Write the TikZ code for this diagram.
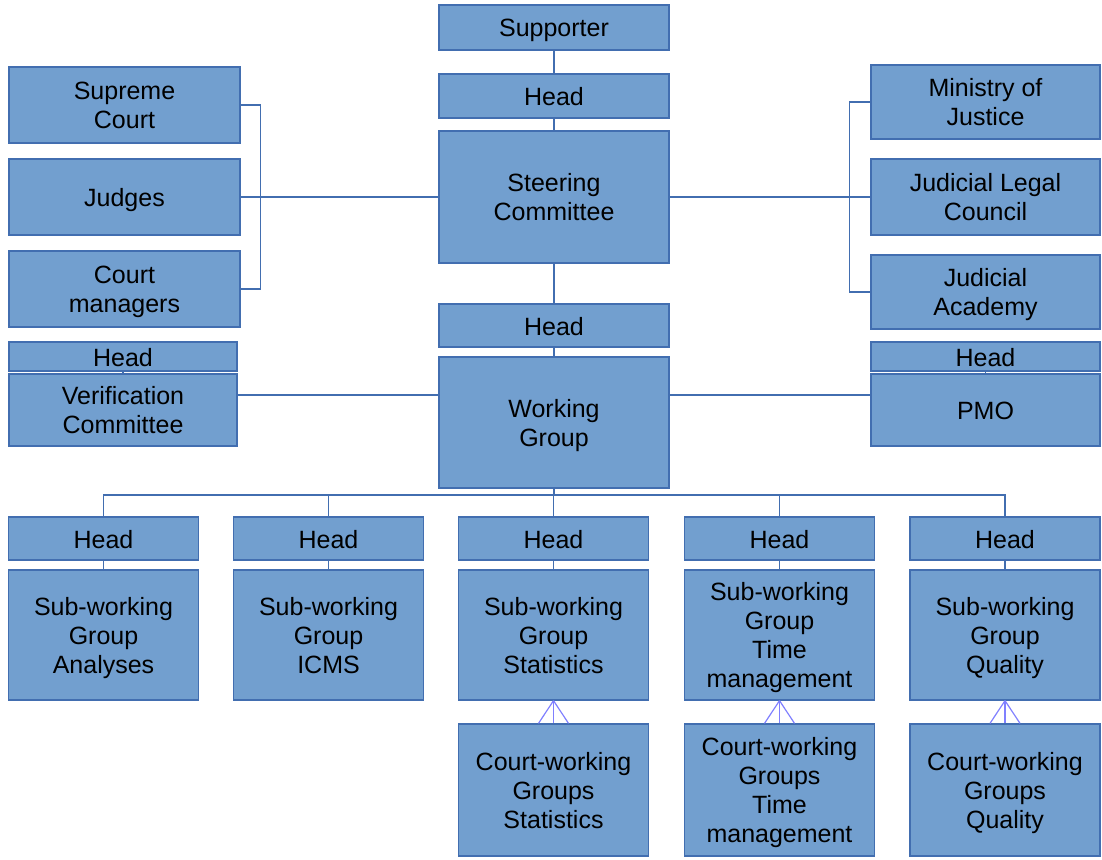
\documentclass[tikz,border=0pt]{standalone}
\usepackage{fontspec}
\setmainfont{Liberation Sans}
\definecolor{boxfill}{RGB}{114,159,207}
\definecolor{boxline}{RGB}{66,110,176}
\definecolor{footline}{RGB}{128,128,255}
\newcommand{\linestrut}{\rule[-5pt]{0pt}{29pt}}
\tikzset{
  box/.style={draw=boxline, line width=1.3pt, fill=boxfill, inner sep=0pt,
    align=center, text=black, font=\fontsize{25}{29}\selectfont,
    execute at begin node=\linestrut, text depth=5pt},
  multi/.style={text depth=-1pt},
  link/.style={draw=boxline, line width=1.2pt},
  foot/.style={draw=footline, line width=1.2pt}
}
\begin{document}
\begin{tikzpicture}[x=1pt, y=-1pt]
\useasboundingbox (0,0) rectangle (1102,859);

% central column
\node[box, minimum width=230pt, minimum height=45pt]  (sup) at (554,27.5) {Supporter};
\node[box, minimum width=230pt, minimum height=44pt]  (h1)  at (554,96)   {Head};
\node[box, multi, minimum width=230pt, minimum height=132pt] (sc)  at (554,197)  {Steering\\Committee};
\node[box, minimum width=230pt, minimum height=43pt]  (h2)  at (554,325.5){Head};
\node[box, multi, minimum width=230pt, minimum height=131pt] (wg)  at (554,422.5){Working\\Group};

% left group
\node[box, multi, minimum width=231pt, minimum height=76pt] (supc) at (124.5,105) {Supreme\\Court};
\node[box, minimum width=231pt, minimum height=76pt] (jud)  at (124.5,197) {Judges};
\node[box, multi, minimum width=231pt, minimum height=76pt] (cm)   at (124.5,289) {Court\\managers};
\node[box, minimum width=228pt, minimum height=25pt] (hl)   at (123,356.5) {Head};
\node[box, multi, minimum width=228pt, minimum height=72pt] (vc)   at (123,410)   {Verification\\Committee};

% right group
\node[box, multi, minimum width=229pt, minimum height=74pt] (moj) at (985.5,102)   {Ministry of\\Justice};
\node[box, multi, minimum width=229pt, minimum height=76pt] (jlc) at (985.5,197)   {Judicial Legal\\Council};
\node[box, multi, minimum width=229pt, minimum height=74pt] (ja)  at (985.5,292)   {Judicial\\Academy};
\node[box, minimum width=229pt, minimum height=25pt] (hr)  at (985.5,356.5) {Head};
\node[box, minimum width=229pt, minimum height=72pt] (pmo) at (985.5,410)   {PMO};

% bottom row: heads
\foreach \n/\x in {A/103.5, B/328.5, C/553.5, D/779.5, E/1005}
  \node[box, minimum width=190pt, minimum height=43pt] (h\n) at (\x,538.5) {Head};

% bottom row: sub-working groups
\tikzset{sub/.style={box, multi, minimum width=190pt, minimum height=130pt}}
\node[sub] (sA) at (103.5,635) {Sub-working\\Group\\Analyses};
\node[sub] (sB) at (328.5,635) {Sub-working\\Group\\ICMS};
\node[sub] (sC) at (553.5,635) {Sub-working\\Group\\Statistics};
\node[sub] (sD) at (779.5,635) {Sub-working\\Group\\Time\\management};
\node[sub] (sE) at (1005,635)  {Sub-working\\Group\\Quality};

% court-working groups
\tikzset{court/.style={box, multi, minimum width=190pt, minimum height=132pt}}
\node[court] (cC) at (553.5,790) {Court-working\\Groups\\Statistics};
\node[court] (cD) at (779.5,790) {Court-working\\Groups\\Time\\management};
\node[court] (cE) at (1005,790)  {Court-working\\Groups\\Quality};

% central spine
\draw[link] (sup.south) -- (h1.north);
\draw[link] (h1.south) -- (h1.south |- sc.north);
\draw[link] (sc.south) -- (sc.south |- h2.north);
\draw[link] (h2.south) -- (h2.south |- wg.north);

% left bracket and link
\draw[link] (supc.east) -- ++(20,0) |- (cm.east);
\draw[link] (jud.east) -- (sc.west);

% right bracket and link
\draw[link] (moj.west) -- ++(-21,0) |- (ja.west);
\draw[link] (sc.east) -- (jlc.west);

% heads of the side committees
\draw[link] (hl.south) -- (vc.north -| hl.south);
\draw[link] (hr.south) -- (pmo.north -| hr.south);
\draw[link] ([yshift=15pt]vc.east) coordinate (vcl) -- (vcl -| wg.west);
\draw[link] ([yshift=15pt]pmo.west) coordinate (pml) -- (pml -| wg.east);

% bus to the sub-working groups
\coordinate (bus) at (554,495);
\draw[link] (wg.south) -- (bus);
\draw[link] (hA.north) -- (hA.north |- bus) -- (hE.north |- bus) -- (hE.north);
\foreach \n in {B,C,D}
  \draw[link] (h\n.north) -- (h\n.north |- bus);
\foreach \n in {A,B,C,D,E}
  \draw[link] (h\n.south) -- (s\n.north);

% crow's feet to court-working groups
\foreach \n in {C,D,E}{
  \draw[foot] (s\n.south) -- (c\n.north);
  \draw[foot] (s\n.south) -- ([xshift=-15pt]c\n.north);
  \draw[foot] (s\n.south) -- ([xshift=15pt]c\n.north);
}
\end{tikzpicture}
\end{document}
